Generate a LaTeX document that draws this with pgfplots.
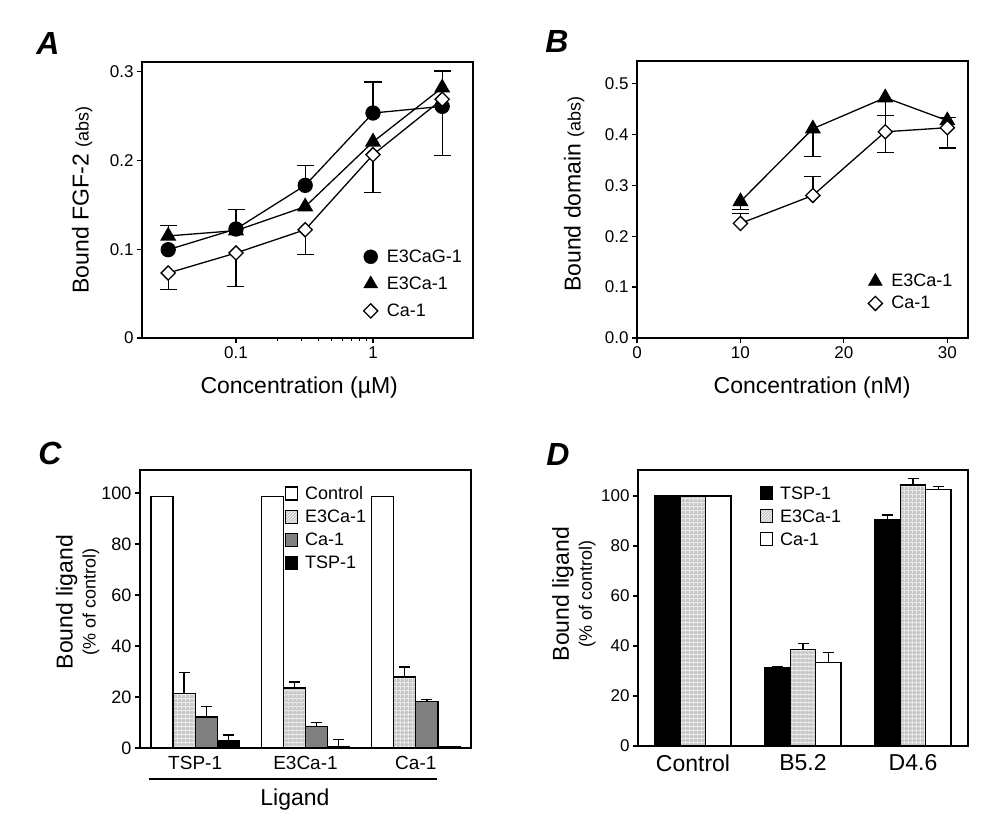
\documentclass[border=0pt]{standalone}
\usepackage{pgfplots}
\pgfplotsset{compat=1.18}
\usepackage{fontspec}
\setmainfont{Liberation Sans}
\usetikzlibrary{patterns,patterns.meta}
\definecolor{lgray}{RGB}{200,200,200}
\definecolor{mgray}{RGB}{128,128,128}
\newcommand{\fs}[1]{\fontsize{#1}{#1}\selectfont}
\pgfplotsset{
  panel/.style={scale only axis, clip=false, anchor=south west,
    axis line style={line width=1.6pt},
    every tick/.style={black, line width=1.2pt},
    tick align=outside, major tick length=5pt,
    xtick pos=left, ytick pos=left,
    /pgf/number format/assume math mode=true,
    legend cell align=left,
    label style={font=\fs{23}},
  },
  ebar/.style={draw=none, mark=none, forget plot,
    error bars/y explicit,
    error bars/error bar style={draw=black, line width=1.3pt},
    error bars/error mark options={draw=black, rotate=90, mark size=#1, line width=1.3pt}},
  ebar/.default=8.5pt,
  barbase/.style={ybar, forget plot, draw=black, line width=1.3pt},
  gridfill/.style={fill=lgray,
    postaction={pattern={Lines[angle=0,distance=4pt,line width=0.6pt]}, pattern color=white},
    postaction={pattern={Lines[angle=90,distance=4pt,line width=0.6pt]}, pattern color=white}},
}
\begin{document}
\begin{tikzpicture}
\path[use as bounding box] (0pt,0pt) rectangle (1008pt,834pt);

% ---------------- Panel A ----------------
\begin{axis}[panel, at={(142pt,496pt)}, width=331pt, height=276pt,
  xmode=log, xmin=0.0206, xmax=5.37, ymin=0, ymax=0.311,
  xtick={0.1,1}, xticklabels={0.1,1}, minor xtick={},
  ytick={0,0.1,0.2,0.3}, yticklabels={0,0.1,0.2,0.3},
  tick label style={font=\fs{17}},
  xlabel={Concentration (µM)},
  ylabel={Bound FGF-2 {\fs{18}(abs)}},
  xlabel style={at={(axis description cs:0.475,0)}, anchor=center, yshift=-50pt},
  ylabel style={at={(axis description cs:-0.181,0.5)}, anchor=center},
  legend style={draw=none, fill=none, at={(axis description cs:0.66,0.335)}, anchor=north west, font=\fs{18}, row sep=9pt, column sep=7pt},
]
\addplot[ebar, error bars/y dir=plus] coordinates {(0.032,0.115) +- (0,0.012) (0.1,0.1228) +- (0,0.0218) (0.32,0.172) +- (0,0.0225) (1,0.2535) +- (0,0.035) (3.2,0.282) +- (0,0.019)};
\addplot[ebar, error bars/y dir=minus] coordinates {(0.032,0.0732) +- (0,0.0187) (0.1,0.0958) +- (0,0.0376) (0.32,0.122) +- (0,0.028) (1,0.2065) +- (0,0.0425) (3.2,0.261) +- (0,0.0556)};
\addplot[forget plot, black, line width=1.3pt, mark=*, mark size=7pt] coordinates {(0.032,0.0995) (0.1,0.1228) (0.32,0.172) (1,0.2535) (3.2,0.261)};
\addplot[forget plot, black, line width=1.3pt, mark=triangle*, mark size=8pt] coordinates {(0.032,0.115) (0.1,0.121) (0.32,0.148) (1,0.221) (3.2,0.282)};
\addplot[forget plot, black, line width=1.3pt, mark=square*, mark size=5pt, mark options={rotate=45, fill=white}] coordinates {(0.032,0.0732) (0.1,0.0958) (0.32,0.122) (1,0.2065) (3.2,0.269)};
\addlegendimage{only marks, black, mark=*, mark size=7pt}
\addlegendentry{E3CaG-1}
\addlegendimage{only marks, black, mark=triangle*, mark size=8pt}
\addlegendentry{E3Ca-1}
\addlegendimage{only marks, black, mark=square*, mark size=5pt, mark options={rotate=45, fill=white, line width=1.3pt}}
\addlegendentry{Ca-1}
\end{axis}
\node[font=\fs{32}\bfseries\itshape] at (48pt,790.5pt) {A};

% ---------------- Panel B ----------------
\begin{axis}[panel, at={(637pt,496pt)}, width=331pt, height=277pt,
  xmin=0, xmax=32, ymin=0, ymax=0.544,
  xtick={0,10,20,30}, xticklabels={0,10,20,30},
  ytick={0,0.1,0.2,0.3,0.4,0.5}, yticklabels={0.0,0.1,0.2,0.3,0.4,0.5},
  tick label style={font=\fs{17}},
  xlabel={Concentration (nM)},
  ylabel={Bound domain {\fs{18}(abs)}},
  xlabel style={at={(axis description cs:0.529,0)}, anchor=center, yshift=-50pt},
  ylabel style={at={(axis description cs:-0.19,0.52)}, anchor=center},
  legend style={draw=none, fill=none, at={(axis description cs:0.689,0.245)}, anchor=north west, font=\fs{18}, row sep=4pt, column sep=7pt},
]
\addplot[ebar, error bars/y dir=plus] coordinates {(10,0.225) +- (0,0.019) (17,0.280) +- (0,0.0365) (24,0.405) +- (0,0.032) (30,0.427) +- (0,0.006)};
\addplot[ebar, error bars/y dir=minus] coordinates {(10,0.268) +- (0,0.016) (17,0.411) +- (0,0.054) (24,0.472) +- (0,0.035) (30,0.413) +- (0,0.04) (24,0.405) +- (0,0.041)};
\addplot[forget plot, black, line width=1.3pt, mark=triangle*, mark size=8pt] coordinates {(10,0.268) (17,0.411) (24,0.472) (30,0.427)};
\addplot[forget plot, black, line width=1.3pt, mark=square*, mark size=5pt, mark options={rotate=45, fill=white}] coordinates {(10,0.225) (17,0.280) (24,0.405) (30,0.413)};
\addlegendimage{only marks, black, mark=triangle*, mark size=8pt}
\addlegendentry{E3Ca-1}
\addlegendimage{only marks, black, mark=square*, mark size=5pt, mark options={rotate=45, fill=white, line width=1.3pt}}
\addlegendentry{Ca-1}
\end{axis}
\node[font=\fs{32}\bfseries\itshape] at (557pt,792.5pt) {B};

% ---------------- Panel C ----------------
\begin{axis}[panel, at={(140pt,86pt)}, width=331pt, height=278pt,
  xmin=-0.5, xmax=2.5, ymin=0, ymax=109,
  xtick={0,1,2}, xticklabels={TSP-1,E3Ca-1,Ca-1},
  xtick style={draw=none},
  ytick={0,20,40,60,80,100},
  yticklabel style={font=\fs{18}},
  xticklabel style={font=\fs{19}},
  xlabel={Ligand},
  ylabel={Bound ligand\\{\fs{18}(\% of control)}},
  xlabel style={at={(axis description cs:0.468,0)}, anchor=center, yshift=-52pt},
  ylabel style={at={(axis description cs:-0.188,0.525)}, anchor=center, align=center},
  legend style={draw=none, fill=none, at={(axis description cs:0.428,0.955)}, anchor=north west, font=\fs{18}, row sep=5pt, column sep=5pt},
]
\addplot[barbase, bar width=0.2, bar shift=-0.3, fill=white] coordinates {(0,98.7) (1,98.7) (2,98.7)};
\addplot[barbase, bar width=0.2, bar shift=-0.1, gridfill] coordinates {(0,21.5) (1,23.5) (2,27.8)};
\addplot[barbase, bar width=0.2, bar shift=0.1, fill=mgray] coordinates {(0,12.2) (1,8.3) (2,18.3)};
\addplot[barbase, bar width=0.2, bar shift=0.3, fill=black] coordinates {(0,2.9) (1,0.7) (2,0.5)};
\addplot[ebar=5.5pt, error bars/y dir=plus] coordinates {(-0.1,21.5) +- (0,8.1) (0.9,23.5) +- (0,2.4) (1.9,27.8) +- (0,3.9)};
\addplot[ebar=5.5pt, error bars/y dir=plus] coordinates {(0.1,12.2) +- (0,4.2) (1.1,8.3) +- (0,1.8) (2.1,18.3) +- (0,0.7)};
\addplot[ebar=5.5pt, error bars/y dir=plus] coordinates {(0.3,2.9) +- (0,2.2) (1.3,0.7) +- (0,2.6)};
\addlegendimage{legend image code/.code={\draw[black, line width=1.2pt, fill=white] (0pt,-6pt) rectangle (12pt,7pt);}}
\addlegendentry{Control}
\addlegendimage{legend image code/.code={\draw[black, line width=1.2pt, fill=lgray, postaction={pattern=north east lines, pattern color=white}] (0pt,-6pt) rectangle (12pt,7pt);}}
\addlegendentry{E3Ca-1}
\addlegendimage{legend image code/.code={\draw[black, line width=1.2pt, fill=mgray] (0pt,-6pt) rectangle (12pt,7pt);}}
\addlegendentry{Ca-1}
\addlegendimage{legend image code/.code={\draw[black, line width=1.2pt, fill=black] (0pt,-6pt) rectangle (12pt,7pt);}}
\addlegendentry{TSP-1}
\draw[line width=1.5pt] ([yshift=-31pt]axis cs:-0.42,0) -- ([yshift=-31pt]axis cs:2.19,0);
\end{axis}
\node[font=\fs{32}\bfseries\itshape] at (50pt,380.5pt) {C};

% ---------------- Panel D ----------------
\begin{axis}[panel, at={(638pt,88pt)}, width=330pt, height=276pt,
  xmin=-0.5, xmax=2.5, ymin=0, ymax=110.4,
  xtick={0,1,2}, xticklabels={Control,B5.2,D4.6},
  xtick style={draw=none},
  ytick={0,20,40,60,80,100},
  yticklabel style={font=\fs{17}},
  xticklabel style={font=\fs{23}},
  ylabel={Bound ligand\\{\fs{18}(\% of control)}},
  ylabel style={at={(axis description cs:-0.194,0.55)}, anchor=center, align=center},
  legend style={draw=none, fill=none, at={(axis description cs:0.36,0.955)}, anchor=north west, font=\fs{18}, row sep=5pt, column sep=5pt},
]
\addplot[barbase, bar width=0.23, bar shift=-0.23, fill=black] coordinates {(0,100) (1,31.2) (2,90.7)};
\addplot[barbase, bar width=0.23, bar shift=0, gridfill] coordinates {(0,100) (1,38.7) (2,104.4)};
\addplot[barbase, bar width=0.23, bar shift=0.23, fill=white] coordinates {(0,100) (1,33.5) (2,102.7)};
\addplot[ebar=5.5pt, error bars/y dir=plus] coordinates {(0.77,31.2) +- (0,0.6) (1.77,90.7) +- (0,1.7)};
\addplot[ebar=5.5pt, error bars/y dir=plus] coordinates {(1,38.7) +- (0,2.4) (2,104.4) +- (0,2.7)};
\addplot[ebar=5.5pt, error bars/y dir=plus] coordinates {(1.23,33.5) +- (0,3.9) (2.23,102.7) +- (0,1.0)};
\addlegendimage{legend image code/.code={\draw[black, line width=1.2pt, fill=black] (0pt,-6pt) rectangle (12pt,7pt);}}
\addlegendentry{TSP-1}
\addlegendimage{legend image code/.code={\draw[black, line width=1.2pt, fill=lgray, postaction={pattern=north east lines, pattern color=white}] (0pt,-6pt) rectangle (12pt,7pt);}}
\addlegendentry{E3Ca-1}
\addlegendimage{legend image code/.code={\draw[black, line width=1.2pt, fill=white] (0pt,-6pt) rectangle (12pt,7pt);}}
\addlegendentry{Ca-1}
\end{axis}
\node[font=\fs{32}\bfseries\itshape] at (558pt,379.5pt) {D};
\end{tikzpicture}
\end{document}
